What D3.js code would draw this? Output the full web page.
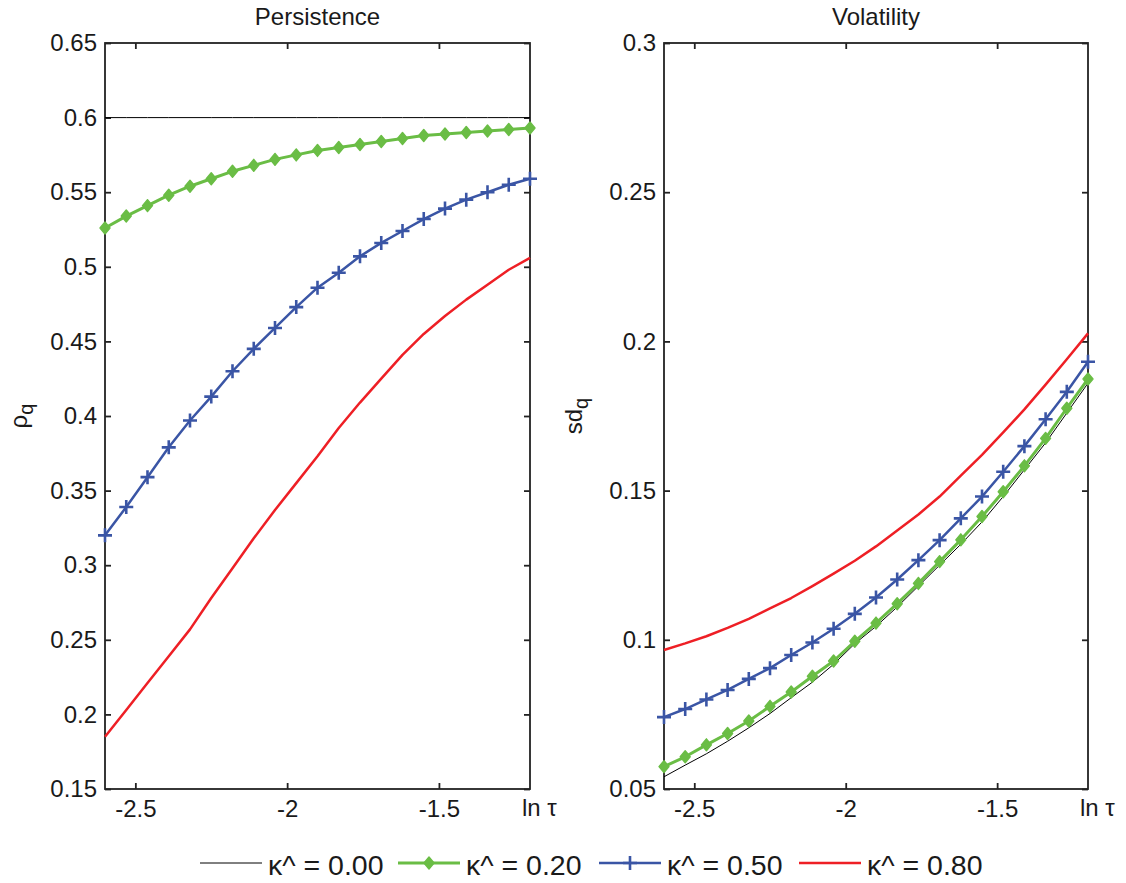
<!DOCTYPE html>
<html>
<head>
<meta charset="utf-8">
<script src="https://cdn.jsdelivr.net/npm/d3@7/dist/d3.min.js"></script>
<style>
body { margin: 0; background: #fff; }
text { font-family: "Liberation Sans", Arial, Helvetica, sans-serif; fill: #1a1a1a; }
</style>
</head>
<body>
<div id="chart-area"></div>
<script>

// x grid (ln tau)
var lnTau = [-2.60, -2.53, -2.46, -2.39, -2.32, -2.25, -2.18, -2.11, -2.04, -1.97, -1.90,
	-1.83, -1.76, -1.69, -1.62, -1.55, -1.48, -1.41, -1.34, -1.27, -1.20];

var kappaLabels = ["\u03ba^ = 0.00", "\u03ba^ = 0.20", "\u03ba^ = 0.50", "\u03ba^ = 0.80"];

// persistence, rho_q
var rhoK00 = [0.6, 0.6, 0.6, 0.6, 0.6, 0.6, 0.6, 0.6, 0.6, 0.6, 0.6,
	0.6, 0.6, 0.6, 0.6, 0.6, 0.6, 0.6, 0.6, 0.6, 0.6];
var rhoK20 = [0.526, 0.534, 0.541, 0.548, 0.554, 0.559, 0.564, 0.568, 0.572, 0.575, 0.578,
	0.580, 0.582, 0.584, 0.586, 0.588, 0.589, 0.590, 0.591, 0.592, 0.593];
var rhoK50 = [0.320, 0.339, 0.359, 0.379, 0.397, 0.413, 0.430, 0.445, 0.459, 0.473, 0.486,
	0.496, 0.507, 0.516, 0.524, 0.532, 0.539, 0.545, 0.550, 0.555, 0.559];
var rhoK80 = [0.185, 0.203, 0.221, 0.239, 0.257, 0.278, 0.298, 0.318, 0.337, 0.355, 0.373,
	0.392, 0.409, 0.425, 0.441, 0.455, 0.467, 0.478, 0.488, 0.498, 0.506];

// volatility, sd_q
var sdK00 = [0.0541, 0.0580, 0.0618, 0.0660, 0.0705, 0.0753, 0.0806, 0.0858, 0.0918, 0.0987, 0.1045,
	0.1110, 0.1180, 0.1250, 0.1320, 0.1395, 0.1480, 0.1570, 0.1660, 0.1760, 0.1860];
var sdK20 = [0.0575, 0.0608, 0.0648, 0.0686, 0.0728, 0.0777, 0.0825, 0.0878, 0.0929, 0.0995, 0.1056,
	0.1121, 0.1189, 0.1262, 0.1335, 0.1413, 0.1496, 0.1583, 0.1675, 0.1776, 0.1874];
var sdK50 = [0.0741, 0.0768, 0.0800, 0.0832, 0.0869, 0.0905, 0.0949, 0.0991, 0.1037, 0.1087, 0.1142,
	0.1202, 0.1267, 0.1334, 0.1407, 0.1480, 0.1563, 0.1649, 0.1739, 0.1831, 0.1932];
var sdK80 = [0.0966, 0.0988, 0.1012, 0.1040, 0.1070, 0.1105, 0.1140, 0.1180, 0.1222, 0.1265, 0.1313,
	0.1366, 0.1420, 0.1480, 0.1550, 0.1620, 0.1695, 0.1772, 0.1855, 0.1940, 0.2027];

var rhoTicks = [0.15, 0.2, 0.25, 0.3, 0.35, 0.4, 0.45, 0.5, 0.55, 0.6, 0.65];
var sdTicks = [0.05, 0.1, 0.15, 0.2, 0.25, 0.3];
var tauTicks = [-2.5, -2, -1.5];

var width = 1126;
var height = 883;
var plotTop = 43;
var plotBottom = 789;

var colors = ["#000000", "#6abd45", "#3a55a5", "#ee1f25"];
var lineWidths = [1, 3, 2.5, 2.5];
var markers = [null, "diamond", "plus", null];
var legendStarts = [200, 398, 599, 799];

var svg = d3.select("#chart-area")
	.append("svg")
		.attr("width", width)
		.attr("height", height)
		.style("background-color", "white");

function drawMarker(sel, type, color) {
	if (type == "diamond") {
		sel.append("path")
			.attr("d", "M0,-6L5,0L0,6L-5,0Z")
			.attr("fill", color)
			.attr("stroke", color)
			.attr("stroke-width", 1.4)
			.attr("stroke-linejoin", "round");
	} else if (type == "plus") {
		sel.append("path")
			.attr("d", "M-7,0H7M0,-7V7")
			.attr("fill", "none")
			.attr("stroke", color)
			.attr("stroke-width", 2.6);
	}
}

function drawPanel(left, right, title, yName, yDomain, yTicks, series) {
	var x = d3.scaleLinear().domain([-2.6, -1.2]).range([left, right]);
	var y = d3.scaleLinear().domain(yDomain).range([plotBottom, plotTop]);

	var g = svg.append("g");

	// box
	g.append("rect")
		.attr("x", left)
		.attr("y", plotTop)
		.attr("width", right - left)
		.attr("height", plotBottom - plotTop)
		.attr("fill", "none")
		.attr("stroke", "#222")
		.attr("stroke-width", 1.8);

	var leftAxis = d3.axisLeft(y).tickValues(yTicks).tickSize(-6).tickPadding(8)
		.tickFormat(function(d) { return d3.format("")(+d.toFixed(2)); });
	var rightAxis = d3.axisRight(y).tickValues(yTicks).tickSize(-6).tickFormat("");
	var bottomAxis = d3.axisBottom(x).tickValues(tauTicks).tickSize(-6).tickPadding(11)
		.tickFormat(function(d) { return String(d); });
	var topAxis = d3.axisTop(x).tickValues(tauTicks).tickSize(-6).tickFormat("");

	var axes = [
		[leftAxis, "translate(" + left + ",0)"],
		[rightAxis, "translate(" + right + ",0)"],
		[bottomAxis, "translate(0," + plotBottom + ")"],
		[topAxis, "translate(0," + plotTop + ")"]
	];
	axes.forEach(function(a) {
		var ag = g.append("g").attr("transform", a[1]).call(a[0]);
		ag.select(".domain").remove();
		ag.selectAll("line").attr("stroke", "#222").attr("stroke-width", 1.8);
		ag.selectAll("text")
			.attr("font-size", "24px")
			.attr("font-family", "'Liberation Sans', Arial, Helvetica, sans-serif")
			.attr("fill", "#1a1a1a");
	});

	// title
	g.append("text")
		.attr("x", (left + right) / 2)
		.attr("y", 25)
		.attr("text-anchor", "middle")
		.attr("font-size", "24px")
		.text(title);

	// x label at the right end of the axis
	var xl = g.append("text")
		.attr("x", right - 8)
		.attr("y", plotBottom + 27)
		.attr("font-size", "24px");
	xl.append("tspan").text("ln ");
	xl.append("tspan").text("\u03c4");

	// y label with subscript
	var yl = g.append("text")
		.attr("transform", "translate(" + yName.x + "," + (plotTop + plotBottom) / 2 + ") rotate(-90)")
		.attr("text-anchor", "middle")
		.attr("font-size", "24px");
	yl.append("tspan").text(yName.main);
	yl.append("tspan").attr("dy", 6).attr("font-size", "20px").text("q");

	var line = d3.line()
		.x(function(d) { return x(d[0]); })
		.y(function(d) { return y(d[1]); });

	series.forEach(function(vals, i) {
		var pts = lnTau.map(function(t, j) { return [t, vals[j]]; });
		g.append("path")
			.datum(pts)
			.attr("d", line)
			.attr("fill", "none")
			.attr("stroke", colors[i])
			.attr("stroke-width", lineWidths[i])
			.attr("stroke-linejoin", "round");
		if (markers[i]) {
			g.selectAll(".m" + i)
				.data(pts)
				.enter()
				.append("g")
					.attr("class", "m" + i)
					.attr("transform", function(d) { return "translate(" + x(d[0]) + "," + y(d[1]) + ")"; })
					.each(function() { drawMarker(d3.select(this), markers[i], colors[i]); });
		}
	});
}

drawPanel(105, 530, "Persistence", {main: "\u03c1", x: 27}, [0.15, 0.65], rhoTicks,
	[rhoK00, rhoK20, rhoK50, rhoK80]);
drawPanel(664, 1088, "Volatility", {main: "sd", x: 582}, [0.05, 0.3], sdTicks,
	[sdK00, sdK20, sdK50, sdK80]);

// legend
var legend = svg.append("g");
var ly = 863;
kappaLabels.forEach(function(label, i) {
	var lx = legendStarts[i];
	legend.append("line")
		.attr("x1", lx)
		.attr("x2", lx + 62)
		.attr("y1", ly)
		.attr("y2", ly)
		.attr("stroke", colors[i])
		.attr("stroke-width", lineWidths[i]);
	if (markers[i]) {
		var mg = legend.append("g").attr("transform", "translate(" + (lx + 31) + "," + ly + ")");
		drawMarker(mg, markers[i], colors[i]);
	}
	legend.append("text")
		.attr("x", lx + 68)
		.attr("y", ly + 12)
		.attr("font-size", "28.5px")
		.text(label);
});

</script>
</body>
</html>
